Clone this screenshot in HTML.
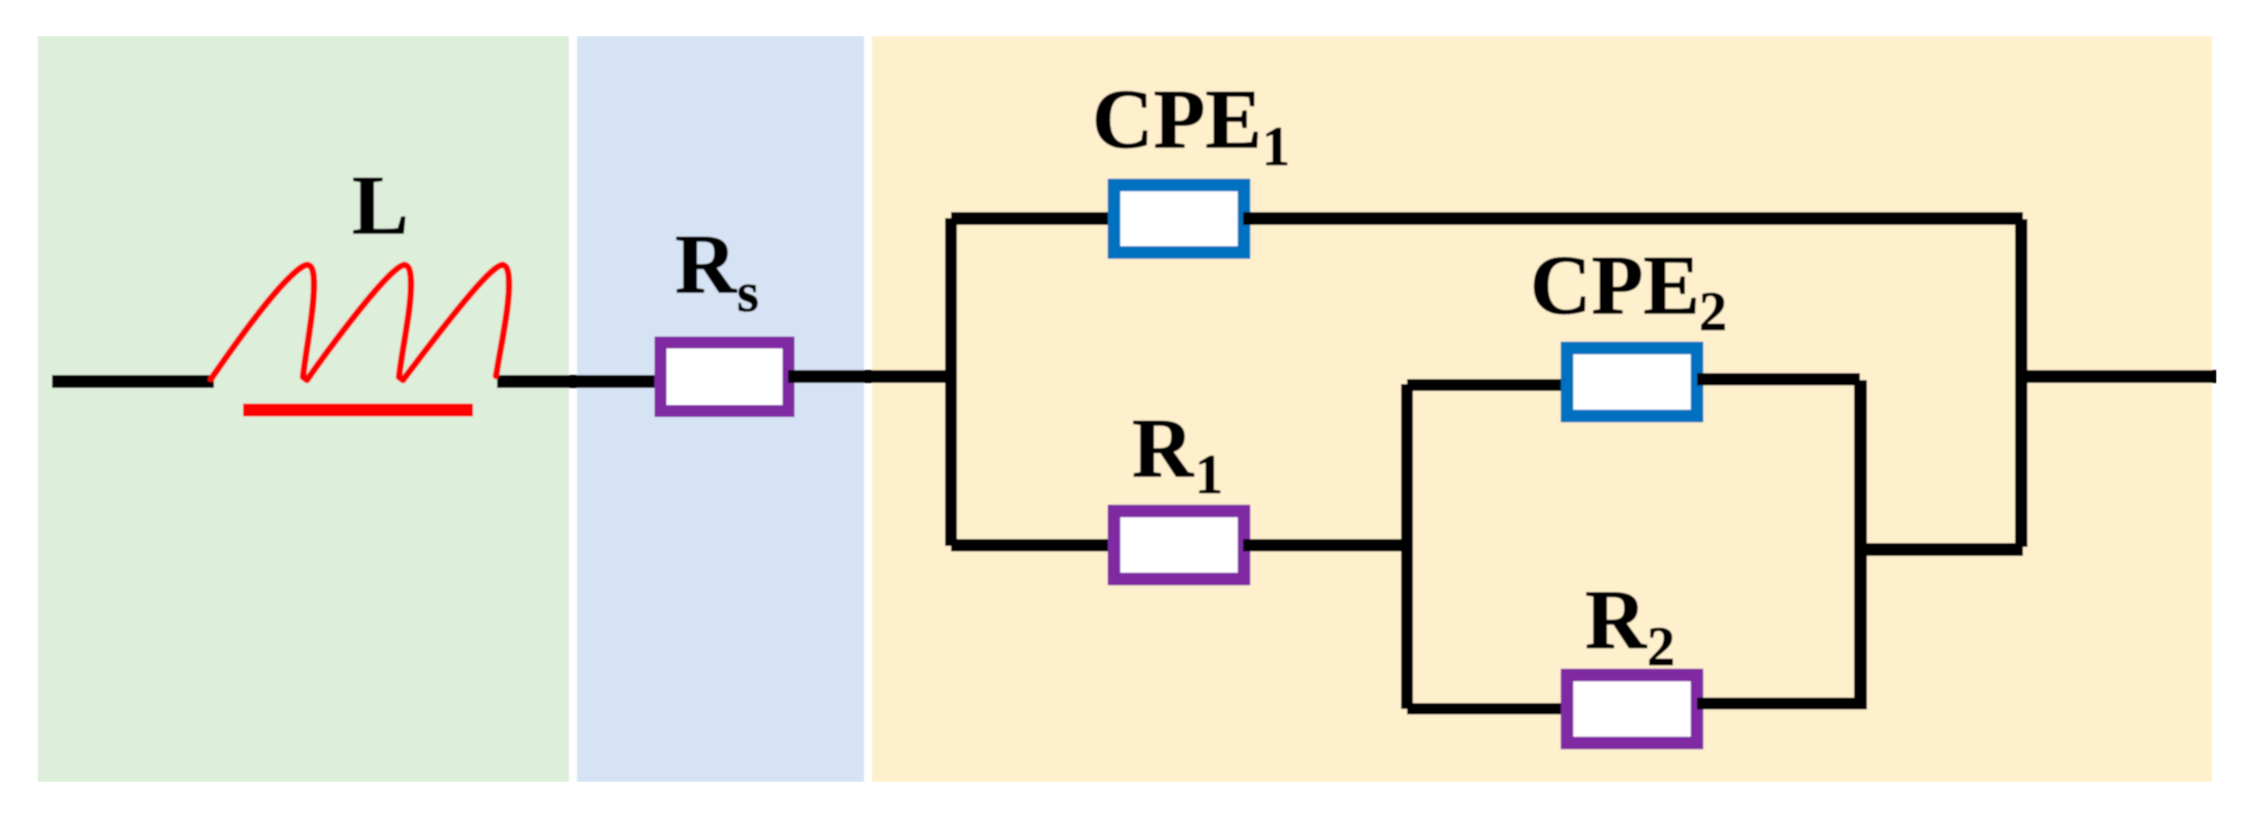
<!DOCTYPE html>
<html>
<head>
<meta charset="utf-8">
<style>
html,body{margin:0;padding:0;background:#fff;width:2252px;height:819px;overflow:hidden}
svg{display:block}
text{font-family:"Liberation Serif",serif;font-weight:bold;fill:#000;stroke:#000;stroke-width:0.7px;text-rendering:geometricPrecision}
.m{font-size:85px}
.s{font-size:56px}
</style>
</head>
<body>
<svg width="2252" height="819" viewBox="0 0 2252 819" xmlns="http://www.w3.org/2000/svg">
<defs><filter id="b" x="0" y="0" width="100%" height="100%"><feGaussianBlur stdDeviation="0.7"/></filter></defs>
<g filter="url(#b)">
<rect x="37.5" y="36" width="531.5" height="746" fill="#DDEEDA"/>
<rect x="577" y="36" width="287" height="746" fill="#D6E3F4"/>
<rect x="872" y="36" width="1340" height="746" fill="#FFF0CD"/>

<rect x="660.5" y="342.5" width="128" height="68.5" fill="#fff" stroke="#7F2BA2" stroke-width="12"/>
<rect x="1114" y="185" width="130" height="67.5" fill="#fff" stroke="#0070C0" stroke-width="12.5"/>
<rect x="1114" y="511" width="130" height="68" fill="#fff" stroke="#7F2BA2" stroke-width="12.5"/>
<rect x="1567" y="348" width="130" height="68" fill="#fff" stroke="#0070C0" stroke-width="12.5"/>
<rect x="1567" y="675" width="130" height="68" fill="#fff" stroke="#7F2BA2" stroke-width="12.5"/>

<g fill="#000">
<rect x="52" y="375" width="162" height="13"/>
<rect x="497" y="375" width="157.5" height="13"/>
<rect x="788" y="370" width="160" height="13"/>
<rect x="945" y="218" width="12" height="328"/>
<rect x="951" y="212" width="157" height="13"/>
<rect x="951" y="539" width="157" height="12.5"/>
<rect x="1243" y="212" width="780" height="13"/>
<rect x="1243" y="539" width="160" height="12.5"/>
<rect x="1401" y="384" width="12" height="325"/>
<rect x="1407" y="379" width="154" height="12"/>
<rect x="1407" y="703" width="154" height="11.5"/>
<rect x="1697" y="373" width="163" height="12.5"/>
<rect x="1854" y="380" width="13" height="329.5"/>
<rect x="1697" y="697.5" width="170" height="12"/>
<rect x="1860" y="543" width="163" height="13"/>
<rect x="2015" y="219" width="12.5" height="328"/>
<rect x="2025" y="370" width="191.5" height="13"/>
</g>

<path d="M211 379 C240 337 270 296 290 277 C299 268 306 264 308 265 C313 266 314 275 314 285 C314 310 306 350 303 377 L307 380 C330 347 368 297 388 277 C397 268 403 264 405 265 C410 266 411 275 411 285 C411 310 402 350 399 377 L403 380 C428 347 466 297 486 277 C495 268 501 264 503 265 C508 266 509 275 509 285 C509 310 500 350 496 376" fill="none" stroke="#FF0000" stroke-width="6.5" stroke-linejoin="round" stroke-linecap="round"/>
<rect x="243" y="403.5" width="230" height="13" fill="#FF0000"/>

<text class="m" x="352" y="233.5">L</text>
<text class="m" x="675" y="292.5">R</text><text class="s" x="737" y="311">s</text>
<text class="m" x="1092" y="147.5">CPE</text><text class="s" x="1262" y="165">1</text>
<text class="m" x="1132" y="476.5">R</text><text class="s" x="1195" y="493">1</text>
<text class="m" x="1530" y="313.5">CPE</text><text class="s" x="1699" y="330">2</text>
<text class="m" x="1585" y="648">R</text><text class="s" x="1647" y="665">2</text>
</g>
</svg>
</body>
</html>
